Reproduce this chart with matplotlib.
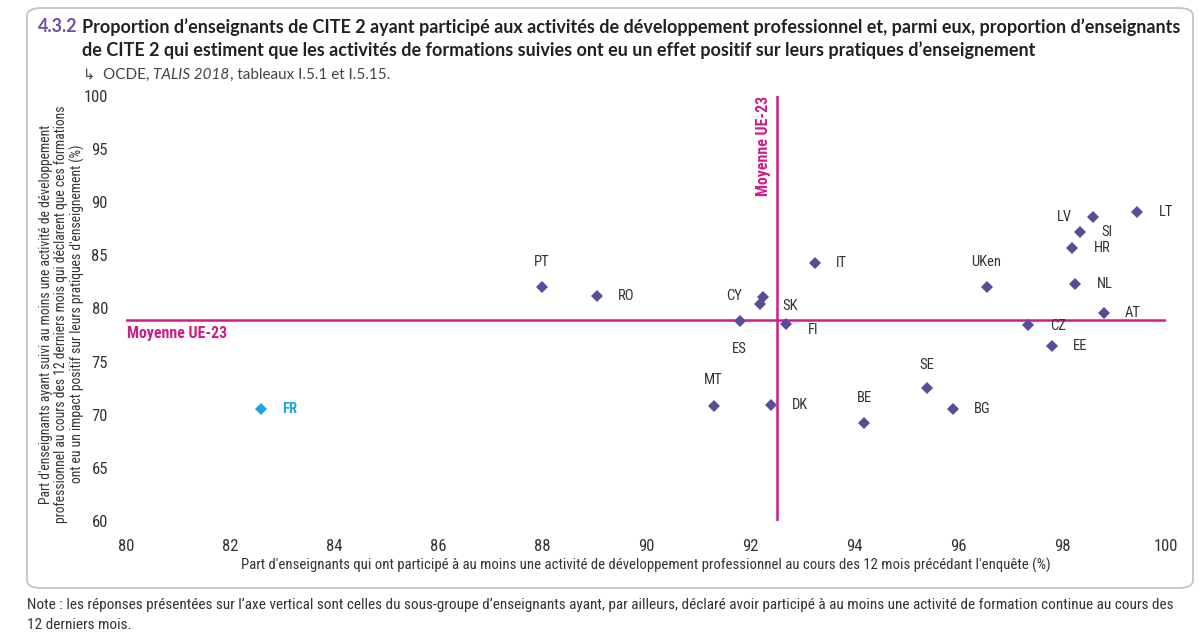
import matplotlib
matplotlib.use("Agg")
import matplotlib.pyplot as plt
from matplotlib.patches import FancyBboxPatch
from matplotlib import font_manager

# ---------------- data ----------------
countries = ["FR", "PT", "RO", "CY", "SK", "ES", "FI", "IT", "MT", "DK", "BE",
             "SE", "BG", "UKen", "CZ", "EE", "NL", "AT", "HR", "SI", "LV", "LT"]
x_participation = [82.6, 88.0, 89.05, 92.25, 92.2, 91.8, 92.7, 93.25, 91.3, 92.4, 94.2,
                   95.4, 95.9, 96.55, 97.35, 97.8, 98.25, 98.8, 98.2, 98.35, 98.6, 99.45]
y_impact = [70.5, 82.0, 81.2, 81.1, 80.4, 78.8, 78.5, 84.3, 70.8, 70.9, 69.2,
            72.5, 70.5, 82.0, 78.4, 76.5, 82.3, 79.6, 85.7, 87.2, 88.6, 89.1]
mean_x = 92.52
mean_y = 78.9
x_ticks = [80, 82, 84, 86, 88, 90, 92, 94, 96, 98, 100]
y_ticks = [60, 65, 70, 75, 80, 85, 90, 95, 100]

# label placement (offset in pixels, alignment)
RIGHT = (21, 0, "left")
label_pos = {
    "FR": (21, 0, "left"), "PT": (0, 25, "center"), "RO": RIGHT,
    "CY": (-21, 1, "right"), "SK": (22, -2, "left"), "ES": (0, -28, "center"),
    "FI": (21, -6, "left"), "IT": RIGHT, "MT": (0, 26, "center"), "DK": RIGHT,
    "BE": (0, 25, "center"), "SE": (0, 23, "center"), "BG": RIGHT,
    "UKen": (0, 25, "center"), "CZ": (22, -1, "left"), "EE": RIGHT,
    "NL": (22, 0, "left"), "AT": RIGHT, "HR": RIGHT, "SI": RIGHT,
    "LV": (-21, 0, "right"), "LT": RIGHT,
}

# ---------------- style ----------------
names = {f.name for f in font_manager.fontManager.ttflist}
narrow = "DejaVu Sans"
for cand in ["Roboto Condensed", "Archivo Narrow", "PT Sans Narrow", "Liberation Sans Narrow",
             "Fira Sans Condensed", "Sofia Sans Condensed", "IBM Plex Sans Condensed",
             "Encode Sans Condensed", "Pragati Narrow", "Open Sans Condensed"]:
    if cand in names:
        narrow = cand
        break
title_font = "Lato" if "Lato" in names else "DejaVu Sans"

PURPLE = "#5B4B9D"
CYAN = "#1CA5E0"
MAGENTA = "#D11C86"
TEXT = "#333333"

W, H = 1200, 635
fig = plt.figure(figsize=(12, 6.35), dpi=100)
fig.canvas.draw()
R = fig.canvas.get_renderer()


def fit(t, target_px, horizontal=True):
    bb = t.get_window_extent(R)
    cur = bb.width if horizontal else bb.height
    if cur > 0:
        t.set_fontsize(t.get_fontsize() * target_px / cur)


# frame
box = FancyBboxPatch((27 / W, 1 - 588 / H), (1193 - 27) / W, (588 - 8) / H,
                     boxstyle="round,pad=0,rounding_size=0.012",
                     transform=fig.transFigure, facecolor="none",
                     edgecolor="#c4c4c4", linewidth=1.3)
fig.patches.append(box)

# title
fig.text(38 / W, 1 - 27 / H, "4.3.2", color="#6E4FA0", fontsize=12.9,
         fontweight="bold", family=title_font, va="center", ha="left")
tt = fig.text(82 / W, 1 - 27 / H,
              "Proportion d\u2019enseignants de CITE 2 ayant particip\u00e9 aux activit\u00e9s de d\u00e9veloppement professionnel et, parmi eux, proportion d\u2019enseignants",
              color="#222222", fontsize=12.9, fontweight="bold", family=title_font, va="center", ha="left")
fit(tt, 1095)
fig.text(82 / W, 1 - 50 / H,
         "de CITE 2 qui estiment que les activit\u00e9s de formations suivies ont eu un effet positif sur leurs pratiques d\u2019enseignement",
         color="#222222", fontsize=tt.get_fontsize(), fontweight="bold", family=title_font,
         va="center", ha="left")
fig.text(83 / W, 1 - 75 / H, "\u21b3", color="#444444", fontsize=10.5,
         family="DejaVu Sans", va="center", ha="left")
t1 = fig.text(103 / W, 1 - 75 / H, "OCDE, ", color="#444444", fontsize=11,
              family=title_font, va="center", ha="left")
bb = t1.get_window_extent(R)
t2 = fig.text(bb.x1 / W, 1 - 75 / H, "TALIS 2018", color="#444444", fontsize=11,
              family=title_font, style="italic", va="center", ha="left")
bb2 = t2.get_window_extent(R)
fig.text(bb2.x1 / W, 1 - 75 / H, ", tableaux I.5.1 et I.5.15.", color="#444444",
         fontsize=11, family=title_font, va="center", ha="left")

# axes
ax = fig.add_axes([126 / W, 1 - 521 / H, (1166 - 126) / W, (521 - 96) / H])
ax.set_xlim(80, 100)
ax.set_ylim(60, 100)
for s in ax.spines.values():
    s.set_visible(False)
ax.set_xticks(x_ticks)
ax.set_yticks(y_ticks)
ax.tick_params(length=0, labelsize=12, labelcolor=TEXT)
ax.tick_params(axis="x", pad=13)
ax.tick_params(axis="y", pad=13)
for lab in ax.get_xticklabels() + ax.get_yticklabels():
    lab.set_family(narrow)

ax.axhline(mean_y, color=MAGENTA, lw=1.8, zorder=1)
ax.axvline(mean_x, color=MAGENTA, lw=1.8, zorder=1)
mh = ax.annotate("Moyenne UE-23", (80, mean_y), xytext=(1, -4), textcoords="offset points",
                 color=MAGENTA, fontsize=11, fontweight="bold", family=narrow,
                 ha="left", va="top")
fit(mh, 100)
ax.annotate("Moyenne UE-23", (mean_x, 100), xytext=(-4, 0), textcoords="offset points",
            rotation=90, color=MAGENTA, fontsize=mh.get_fontsize(), fontweight="bold",
            family=narrow, ha="right", va="top")

px2pt = 72 / 100
probe = fig.text(0, 0, "UKen", fontsize=12, family=narrow)
fit(probe, 30)
lab_size = probe.get_fontsize()
probe.remove()
for c, xv, yv in zip(countries, x_participation, y_impact):
    col = CYAN if c == "FR" else PURPLE
    ax.plot([xv], [yv], marker="D", ms=6, color=col, mew=0, ls="none", zorder=3)
    dx, dy, ha = label_pos[c]
    ax.annotate(c, (xv, yv), xytext=(dx * px2pt, dy * px2pt), textcoords="offset points",
                ha=ha, va="center", fontsize=lab_size,
                family=narrow, color=CYAN if c == "FR" else TEXT,
                fontweight="bold" if c == "FR" else "normal")

xl = fig.text(646 / W, 1 - 565 / H,
              "Part d'enseignants qui ont particip\u00e9 \u00e0 au moins une activit\u00e9 de d\u00e9veloppement professionnel au cours des 12 mois pr\u00e9c\u00e9dant l'enqu\u00eate (%)",
              fontsize=11, family=narrow, color=TEXT, ha="center", va="center")
fit(xl, 799)

ylab_lines = ["Part d'enseignants ayant suivi au moins une activit\u00e9 de d\u00e9veloppement",
              "professionnel au cours des 12 derniers mois qui d\u00e9clarent que ces formations",
              "ont eu un impact positif sur leurs pratiques d'enseignement (%)"]
yl = fig.text(62 / W, 1 - 314 / H, "\n".join(ylab_lines), rotation=90,
              fontsize=10, family=narrow, color=TEXT, ha="center", va="center",
              linespacing=1.15, multialignment="center")
fit(yl, 416, horizontal=False)

nt = fig.text(27 / W, 1 - 605 / H,
              "Note : les r\u00e9ponses pr\u00e9sent\u00e9es sur l\u2019axe vertical sont celles du sous-groupe d\u2019enseignants ayant, par ailleurs, d\u00e9clar\u00e9 avoir particip\u00e9 \u00e0 au moins une activit\u00e9 de formation continue au cours des",
              fontsize=11, family=narrow, color=TEXT, va="center", ha="left")
fit(nt, 1143)
fig.text(27 / W, 1 - 625 / H, "12 derniers mois.",
         fontsize=nt.get_fontsize(), family=narrow, color=TEXT, va="center", ha="left")

fig.savefig("out.png", dpi=100)
